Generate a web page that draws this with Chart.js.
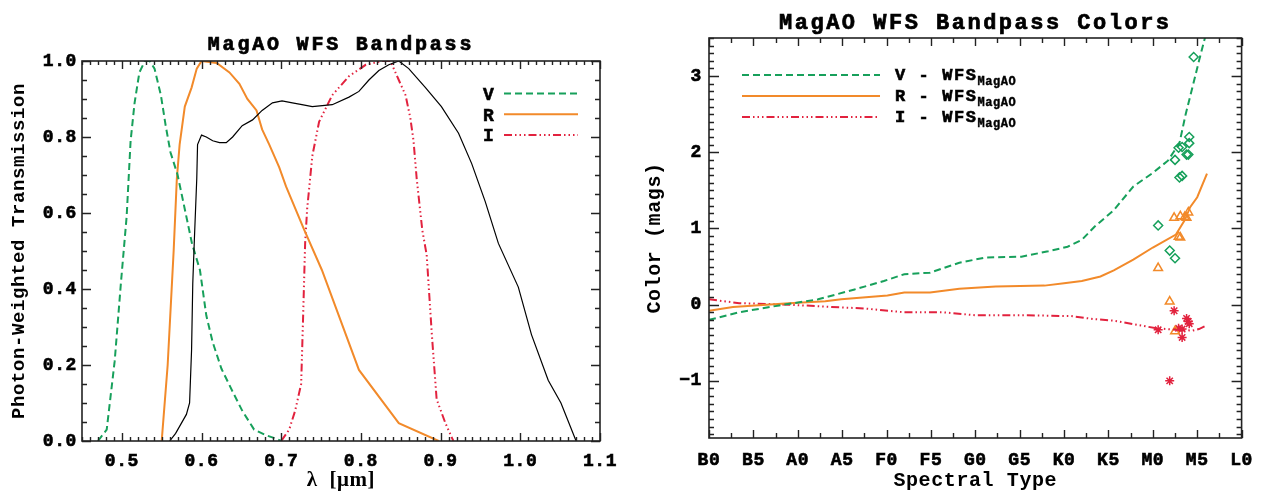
<!DOCTYPE html>
<html>
<head>
<meta charset="utf-8">
<script src="https://cdn.jsdelivr.net/npm/chart.js@4.4.1/dist/chart.umd.min.js"></script>
<style>
  html, body { margin: 0; padding: 0; background: #fff; }
  #wrap { position: relative; width: 1265px; height: 491px; }
  #bandChart { position: absolute; left: 0; top: 0; }
  #colorChart { position: absolute; left: 632px; top: 0; }
</style>
</head>
<body>
<div id="wrap">
  <canvas id="bandChart" width="632" height="491"></canvas>
  <canvas id="colorChart" width="633" height="491"></canvas>
</div>
<script>
// ---- left panel: bandpass curves (wavelength in microns vs photon-weighted transmission)
const vWave = [0.470, 0.481, 0.491, 0.499, 0.506, 0.511, 0.516, 0.522, 0.529, 0.535, 0.541, 0.549, 0.555, 0.561, 0.570, 0.579, 0.588, 0.598, 0.606, 0.614, 0.625, 0.639, 0.651, 0.666, 0.681, 0.695, 0.700];
const vTrans = [0, 0.03, 0.21, 0.42, 0.59, 0.79, 0.89, 0.97, 1.0, 1.0, 0.98, 0.91, 0.83, 0.76, 0.70, 0.61, 0.52, 0.45, 0.33, 0.26, 0.19, 0.13, 0.08, 0.03, 0.015, 0.005, 0];

const rWave = [0.550, 0.5575, 0.5625, 0.565, 0.569, 0.5725, 0.579, 0.5875, 0.594, 0.600, 0.619, 0.635, 0.6475, 0.6575, 0.669, 0.676, 0.685, 0.6975, 0.706, 0.729, 0.751, 0.7975, 0.8475, 0.8975];
const rTrans = [0, 0.20, 0.40, 0.50, 0.69, 0.78, 0.88, 0.93, 0.98, 1.0, 0.995, 0.97, 0.94, 0.90, 0.87, 0.82, 0.78, 0.72, 0.67, 0.555, 0.45, 0.187, 0.047, 0];

const iWave = [0.700, 0.710, 0.7175, 0.725, 0.7275, 0.730, 0.7325, 0.739, 0.7475, 0.764, 0.785, 0.806, 0.826, 0.837, 0.8475, 0.856, 0.862, 0.866, 0.870, 0.877, 0.8825, 0.889, 0.895, 0.906, 0.916];
const iTrans = [0, 0.03, 0.08, 0.15, 0.33, 0.52, 0.61, 0.75, 0.84, 0.91, 0.96, 0.99, 1.0, 1.0, 0.95, 0.91, 0.85, 0.79, 0.69, 0.555, 0.49, 0.28, 0.11, 0.047, 0];

const wfsWave = [0.560, 0.5675, 0.581, 0.585, 0.5875, 0.589, 0.591, 0.594, 0.595, 0.600, 0.606, 0.614, 0.6225, 0.631, 0.639, 0.651, 0.664, 0.676, 0.689, 0.701, 0.714, 0.726, 0.739, 0.764, 0.785, 0.7975, 0.810, 0.8225, 0.835, 0.8475, 0.860, 0.881, 0.901, 0.9225, 0.939, 0.956, 0.9725, 0.9975, 1.014, 1.035, 1.051, 1.070];
const wfsTrans = [0, 0.02, 0.07, 0.10, 0.24, 0.415, 0.53, 0.69, 0.78, 0.805, 0.80, 0.79, 0.785, 0.785, 0.80, 0.83, 0.845, 0.87, 0.89, 0.895, 0.89, 0.885, 0.88, 0.885, 0.905, 0.92, 0.95, 0.975, 0.99, 1.0, 0.98, 0.93, 0.88, 0.81, 0.73, 0.63, 0.52, 0.405, 0.28, 0.16, 0.10, 0];

const waveTicks = [0.5, 0.6, 0.7, 0.8, 0.9, 1.0, 1.1];
const transTicks = [0, 0.2, 0.4, 0.6, 0.8, 1.0];
const bandKeyLabels = ['V', 'R', 'I'];

// ---- right panel: colours vs spectral type (B0 = 0 ... L0 = 60)
const spectralLabels = ['B0', 'B5', 'A0', 'A5', 'F0', 'F5', 'G0', 'G5', 'K0', 'K5', 'M0', 'M5', 'L0'];
const spectralTicks = [0, 5, 10, 15, 20, 25, 30, 35, 40, 45, 50, 55, 60];
const colorTicks = [-1, 0, 1, 2, 3];

const vLineSpt = [0, 3.4, 7.9, 12.3, 16.4, 19.7, 22.0, 24.9, 28.2, 31.2, 35.2, 38.2, 40.4, 42.0, 43.4, 45.6, 47.8, 50.0, 51.7, 53.0, 53.7, 54.5, 55.2, 55.8, 56.1];
const vLineColor = [-0.20, -0.10, -0.01, 0.07, 0.20, 0.31, 0.40, 0.42, 0.55, 0.62, 0.63, 0.70, 0.76, 0.85, 1.02, 1.24, 1.55, 1.73, 1.89, 2.12, 2.50, 2.87, 3.20, 3.47, 3.60];

const rLineSpt = [0, 2.7, 9.0, 13.1, 14.9, 20.1, 22.0, 24.9, 28.2, 32.3, 37.8, 40.0, 42.0, 44.1, 45.6, 47.8, 50.0, 52.6, 53.6, 54.2, 55.0, 56.1];
const rLineColor = [-0.08, -0.03, 0.02, 0.045, 0.07, 0.12, 0.16, 0.16, 0.21, 0.24, 0.25, 0.28, 0.31, 0.37, 0.45, 0.59, 0.75, 0.92, 1.11, 1.28, 1.41, 1.72];

const iLineSpt = [0, 3.4, 9.0, 13.8, 17.5, 22.0, 26.4, 30.1, 35.9, 40.8, 43.4, 45.6, 50.4, 52.6, 54.5, 55.2, 56.1];
const iLineColor = [0.07, 0.02, 0.0, -0.03, -0.05, -0.10, -0.10, -0.14, -0.14, -0.15, -0.19, -0.21, -0.31, -0.33, -0.34, -0.32, -0.27];

const vObsSpt = [54.6, 54.1, 54.1, 53.3, 52.9, 52.5, 53.8, 54.0, 53.0, 53.3, 50.6, 51.9, 52.5];
const vObsColor = [3.25, 2.20, 2.12, 2.07, 2.06, 1.90, 1.97, 1.97, 1.67, 1.69, 1.04, 0.71, 0.61];
const rObsSpt = [52.4, 53.1, 53.6, 54.0, 53.8, 52.9, 53.1, 50.6, 51.9, 52.5];
const rObsColor = [1.14, 1.16, 1.15, 1.21, 1.14, 0.89, 0.88, 0.48, 0.04, -0.35];
const iObsSpt = [50.6, 52.4, 53.8, 54.0, 54.1, 52.9, 53.3, 53.3, 51.9];
const iObsColor = [-0.33, -0.08, -0.18, -0.22, -0.25, -0.31, -0.32, -0.43, -1.00];

const colorKeyLabels = ['V - WFS', 'R - WFS', 'I - WFS'];
const colorKeySub = 'MagAO';

// ---- styling
const MONO = "'Liberation Mono', 'DejaVu Sans Mono', monospace";
const GREEN = '#17a05b';
const ORANGE = '#f28a2a';
const RED = '#e2223e';
const V_DASH = [7, 4];
const I_DASH = [8, 3, 1.5, 3, 1.5, 3, 1.5, 3];

const pts = (xs, ys) => xs.map((x, i) => ({ x: x, y: ys[i] }));

function steps(min, max, step) {
  const out = [];
  const start = Math.ceil(min / step - 1e-6);
  for (let k = start; k * step <= max + 1e-9; k++) out.push(k * step);
  return out;
}

// bold-looking text: fill plus a thin stroke of the same colour
function heavyText(ctx, text, x, y, weight) {
  ctx.fillText(text, x, y);
  ctx.lineWidth = weight;
  ctx.strokeStyle = ctx.fillStyle;
  ctx.strokeText(text, x, y);
}

// frame with inward ticks on all four sides (IDL look)
const boxAxes = {
  id: 'boxAxes',
  afterDatasetsDraw(chart, args, o) {
    const { ctx, chartArea: a, scales: { x, y } } = chart;
    ctx.save();
    ctx.strokeStyle = '#222';
    ctx.lineWidth = 1.4;
    ctx.beginPath();
    const markX = (list, len) => list.forEach(v => {
      const px = Math.round(x.getPixelForValue(v)) + 0.5;
      ctx.moveTo(px, a.bottom); ctx.lineTo(px, a.bottom - len);
      ctx.moveTo(px, a.top); ctx.lineTo(px, a.top + len);
    });
    const markY = (list, len) => list.forEach(v => {
      const py = Math.round(y.getPixelForValue(v)) + 0.5;
      ctx.moveTo(a.left, py); ctx.lineTo(a.left + len, py);
      ctx.moveTo(a.right, py); ctx.lineTo(a.right - len, py);
    });
    markX(steps(x.min, x.max, o.xMinor), o.xMinorLen);
    markX(o.xMajor, o.xMajorLen);
    markY(steps(y.min, y.max, o.yMinor), o.yMinorLen);
    markY(o.yMajor, o.yMajorLen);
    ctx.stroke();
    ctx.lineWidth = 1.6;
    ctx.strokeRect(a.left, a.top, a.right - a.left, a.bottom - a.top);
    ctx.restore();
  }
};

// plot title centred over the plot area
const plotTitle = {
  id: 'plotTitle',
  afterDraw(chart, args, o) {
    const { ctx, chartArea: a } = chart;
    ctx.save();
    ctx.font = `bold ${o.size}px ${MONO}`;
    ctx.letterSpacing = o.spacing;
    ctx.fillStyle = '#000';
    ctx.textAlign = 'center';
    ctx.textBaseline = 'alphabetic';
    heavyText(ctx, o.text, (a.left + a.right) / 2, o.baseline, 0.7);
    ctx.restore();
  }
};

// hand-laid key (line samples + text, optional subscript)
const keyBox = {
  id: 'keyBox',
  afterDraw(chart, args, o) {
    const ctx = chart.ctx;
    o.items.forEach((it, i) => {
      const y = o.y + i * o.dy;
      ctx.save();
      ctx.strokeStyle = it.color;
      ctx.lineWidth = 2;
      ctx.setLineDash(it.dash);
      ctx.beginPath();
      ctx.moveTo(o.lineFrom, y);
      ctx.lineTo(o.lineTo, y);
      ctx.stroke();
      ctx.setLineDash([]);
      ctx.fillStyle = '#000';
      ctx.font = `bold ${o.size}px ${MONO}`;
      ctx.letterSpacing = o.spacing;
      ctx.textBaseline = 'alphabetic';
      heavyText(ctx, it.text, o.textX, y + o.baseOff, 0.6);
      if (it.sub) {
        const w = ctx.measureText(it.text).width;
        ctx.font = `bold ${o.subSize}px ${MONO}`;
        ctx.letterSpacing = '0.5px';
        heavyText(ctx, it.sub, o.textX + w, y + o.subOff, 0.4);
      }
      ctx.restore();
    });
  }
};

const spacing = {
  id: 'spacing',
  beforeLayout(chart) { chart.ctx.letterSpacing = '0.6px'; },
  beforeDraw(chart) { chart.ctx.letterSpacing = '0.6px'; }
};

const tickFont = { family: MONO, size: 18, weight: 'bold' };

function lineSet(data, color, dash, width) {
  return {
    data: data, borderColor: color, backgroundColor: color, borderWidth: width,
    borderDash: dash, pointRadius: 0, tension: 0, showLine: true, fill: false
  };
}

function markSet(data, color, style, radius) {
  return {
    data: data, showLine: false, pointStyle: style, pointRadius: radius,
    pointBorderColor: color, pointBackgroundColor: 'rgba(0,0,0,0)', pointBorderWidth: 1.5,
    borderColor: color, backgroundColor: 'rgba(0,0,0,0)'
  };
}

new Chart(document.getElementById('bandChart'), {
  type: 'line',
  data: {
    datasets: [
      lineSet(pts(wfsWave, wfsTrans), '#000', [], 1.2),
      lineSet(pts(vWave, vTrans), GREEN, V_DASH, 2),
      lineSet(pts(rWave, rTrans), ORANGE, [], 2),
      lineSet(pts(iWave, iTrans), RED, I_DASH, 2)
    ]
  },
  options: {
    responsive: false,
    animation: false,
    layout: { padding: { left: 0, right: 32, top: 61, bottom: 0 } },
    plugins: {
      legend: { display: false },
      tooltip: { enabled: false },
      plotTitle: { text: 'MagAO WFS Bandpass', size: 20, spacing: '2.8px', baseline: 50 },
      boxAxes: {
        xMajor: waveTicks, xMinor: 0.01, xMajorLen: 8, xMinorLen: 4,
        yMajor: transTicks, yMinor: 0.05, yMajorLen: 9, yMinorLen: 5
      },
      keyBox: {
        y: 93.5, dy: 20.7, lineFrom: 504, lineTo: 578, textX: 483, baseOff: 6.5,
        size: 18, spacing: '0.6px',
        items: [
          { text: bandKeyLabels[0], color: GREEN, dash: V_DASH },
          { text: bandKeyLabels[1], color: ORANGE, dash: [] },
          { text: bandKeyLabels[2], color: RED, dash: I_DASH }
        ]
      }
    },
    scales: {
      x: {
        type: 'linear', min: 0.45, max: 1.1,
        afterBuildTicks: s => { s.ticks = waveTicks.map(v => ({ value: v })); },
        afterFit: s => { s.height = 50; },
        grid: { display: false, drawTicks: false },
        border: { display: false },
        ticks: { color: '#000', font: tickFont, padding: 10, maxRotation: 0, autoSkip: false,
                 textStrokeColor: '#000', textStrokeWidth: 0.6,
                 callback: v => v.toFixed(1) },
        title: { display: true, text: 'λ  [μm]', color: '#000',
                 font: { family: "'Liberation Serif', serif", size: 21, weight: 'bold', lineHeight: 1 },
                 padding: { top: 0, bottom: 0 } }
      },
      y: {
        min: 0, max: 1.0,
        afterBuildTicks: s => { s.ticks = transTicks.map(v => ({ value: v })); },
        afterFit: s => { s.width = 82; },
        grid: { display: false, drawTicks: false },
        border: { display: false },
        ticks: { color: '#000', font: tickFont, padding: 5,
                 textStrokeColor: '#000', textStrokeWidth: 0.6,
                 callback: v => v.toFixed(1) },
        title: { display: true, text: 'Photon-Weighted Transmission', color: '#000',
                 font: { family: MONO, size: 19, weight: 'bold', lineHeight: 1 },
                 padding: { top: 10, bottom: 0 } }
      }
    }
  },
  plugins: [spacing, boxAxes, plotTitle, keyBox]
});

new Chart(document.getElementById('colorChart'), {
  type: 'line',
  data: {
    datasets: [
      lineSet(pts(vLineSpt, vLineColor), GREEN, V_DASH, 2),
      lineSet(pts(rLineSpt, rLineColor), ORANGE, [], 2),
      lineSet(pts(iLineSpt, iLineColor), RED, I_DASH, 2),
      markSet(pts(vObsSpt, vObsColor), GREEN, 'rectRot', 4.5),
      markSet(pts(rObsSpt, rObsColor), ORANGE, 'triangle', 5),
      markSet(pts(iObsSpt, iObsColor), RED, 'star', 4.5)
    ]
  },
  options: {
    responsive: false,
    animation: false,
    layout: { padding: { left: 0, right: 15, top: 38, bottom: 0 } },
    plugins: {
      legend: { display: false },
      tooltip: { enabled: false },
      plotTitle: { text: 'MagAO WFS Bandpass Colors', size: 22, spacing: '2.5px', baseline: 28.5 },
      boxAxes: {
        xMajor: spectralTicks, xMinor: 2.5, xMajorLen: 8, xMinorLen: 5,
        yMajor: colorTicks, yMinor: 0.1, yMajorLen: 10, yMinorLen: 5
      },
      keyBox: {
        y: 75, dy: 21, lineFrom: 110, lineTo: 248, textX: 263, baseOff: 5, subOff: 10,
        size: 17, subSize: 12, spacing: '1.6px',
        items: [
          { text: colorKeyLabels[0], sub: colorKeySub, color: GREEN, dash: V_DASH },
          { text: colorKeyLabels[1], sub: colorKeySub, color: ORANGE, dash: [] },
          { text: colorKeyLabels[2], sub: colorKeySub, color: RED, dash: I_DASH }
        ]
      }
    },
    scales: {
      x: {
        type: 'linear', min: 0, max: 60,
        afterBuildTicks: s => { s.ticks = spectralTicks.map(v => ({ value: v })); },
        afterFit: s => { s.height = 53; },
        grid: { display: false, drawTicks: false },
        border: { display: false },
        ticks: { color: '#000', font: tickFont, padding: 12, maxRotation: 0, autoSkip: false,
                 textStrokeColor: '#000', textStrokeWidth: 0.6,
                 callback: v => spectralLabels[spectralTicks.indexOf(v)] },
        title: { display: true, text: 'Spectral Type', color: '#000',
                 font: { family: MONO, size: 20, weight: 'bold', lineHeight: 1 },
                 padding: { top: 0, bottom: 0 } }
      },
      y: {
        min: -1.75, max: 3.5,
        afterBuildTicks: s => { s.ticks = colorTicks.map(v => ({ value: v })); },
        afterFit: s => { s.width = 77; },
        grid: { display: false, drawTicks: false },
        border: { display: false },
        ticks: { color: '#000', font: tickFont, padding: 7,
                 textStrokeColor: '#000', textStrokeWidth: 0.6,
                 callback: v => (v < 0 ? '\u2212' + Math.abs(v) : String(v)) },
        title: { display: true, text: 'Color (mags)', color: '#000',
                 font: { family: MONO, size: 20, weight: 'bold', lineHeight: 1 },
                 padding: { top: 13, bottom: 0 } }
      }
    }
  },
  plugins: [spacing, boxAxes, plotTitle, keyBox]
});
</script>
</body>
</html>
